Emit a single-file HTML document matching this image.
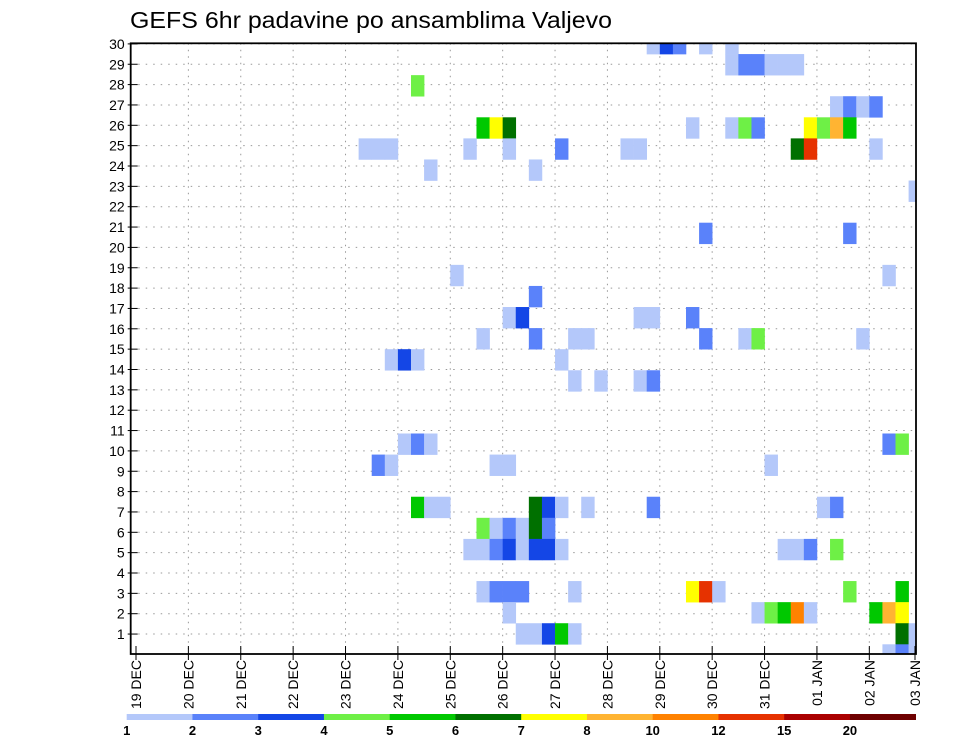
<!DOCTYPE html>
<html><head><meta charset="utf-8"><style>
html,body{margin:0;padding:0;background:#fff;}
svg{display:block;font-family:"Liberation Sans",sans-serif;}
</style></head><body>
<svg id="chart" width="960" height="742" viewBox="0 0 960 742" xmlns="http://www.w3.org/2000/svg">
<text x="130" y="28" font-size="23" textLength="482" lengthAdjust="spacingAndGlyphs" fill="#000">GEFS 6hr padavine po ansamblima Valjevo</text>
<defs><clipPath id="plotclip"><rect x="130.7" y="43.3" width="785.3" height="610.7"/></clipPath></defs>
<g id="grid"></g>
<g id="cells" clip-path="url(#plotclip)"></g>
<rect x="130.7" y="43.3" width="785.3" height="610.7" fill="none" stroke="#000" stroke-width="1.8"/>
<g id="axes"></g>
<g id="legend"></g>
</svg>
<script>
// 6-hour step index from 19 DEC 00z, ensemble member, precipitation value
const cellStep = [39,40,41,43,45, 45,46,47,48,49,50, 21, 53,54,55,56,
 26,27,28,42,45,46,47,51,52,53,54,
 17,18,19,25,28,32,37,38,50,51,56,
 22,30, 59, 43,54, 24,57, 30,
 28,29,38,39,42,
 26,30,33,34,43,46,47,55,
 19,20,21,32, 33,35,38,39,
 20,21,22,57,58,
 18,19,27,28,48,
 21,22,23,30,31,32,34,39,52,53,
 26,27,28,29,30,31,
 25,26,27,28,29,30,31,32,49,50,51,53,
 26,27,28,29,33,42,43,44,54,58,
 28,47,48,49,50,51,56,57,58,
 29,30,31,32,33,58,59,
 57,58,59];
const cellMember = [30,30,30,30,30, 29,29,29,29,29,29, 28, 27,27,27,27,
 26,26,26,26,26,26,26,26,26,26,26,
 25,25,25,25,25,25,25,25,25,25,25,
 24,24, 23, 21,21, 19,19, 18,
 17,17,17,17,17,
 16,16,16,16,16,16,16,16,
 15,15,15,15, 14,14,14,14,
 11,11,11,11,11,
 10,10,10,10,10,
 8,8,8,8,8,8,8,8,8,8,
 7,7,7,7,7,7,
 6,6,6,6,6,6,6,6,6,6,6,6,
 4,4,4,4,4,4,4,4,4,4,
 3,3,3,3,3,3,3,3,3,
 2,2,2,2,2,2,2,
 1,1,1];
const cellValue = [1.5,3.5,2.5,1.5,1.5, 1.5,2.5,2.5,1.5,1.5,1.5, 4.5, 1.5,2.5,1.5,2.5,
 5.5,7.5,6.5,1.5,1.5,4.5,2.5,7.5,4.5,9,5.5,
 1.5,1.5,1.5,1.5,1.5,2.5,1.5,1.5,6.5,13.5,1.5,
 1.5,1.5, 1.5, 2.5,2.5, 1.5,1.5, 2.5,
 1.5,3.5,1.5,1.5,2.5,
 1.5,2.5,1.5,1.5,2.5,1.5,4.5,1.5,
 1.5,3.5,1.5,1.5, 1.5,1.5,1.5,2.5,
 1.5,2.5,1.5,2.5,4.5,
 2.5,1.5,1.5,1.5,1.5,
 5.5,1.5,1.5,6.5,3.5,1.5,1.5,2.5,1.5,2.5,
 4.5,1.5,2.5,1.5,6.5,2.5,
 1.5,1.5,2.5,3.5,1.5,3.5,3.5,1.5,1.5,1.5,2.5,4.5,
 1.5,2.5,2.5,2.5,1.5,7.5,13.5,1.5,4.5,5.5,
 1.5,1.5,4.5,5.5,11,1.5,5.5,9,7.5,
 1.5,1.5,3.5,5.5,1.5,6.5,1.5,
 1.5,2.5,1.5];
const levels = [1,2,3,4,5,6,7,8,10,12,15,20];
const levelColors = ["#b4c8fa","#5a82fa","#1446e6","#6ef046","#00c800","#007000","#ffff00","#ffb432","#ff8200","#e63200","#aa0000","#6e0000"];
const dayLabels = ["19 DEC","20 DEC","21 DEC","22 DEC","23 DEC","24 DEC","25 DEC","26 DEC","27 DEC","28 DEC","29 DEC","30 DEC","31 DEC","01 JAN","02 JAN","03 JAN"];
const memberTicks = [1,2,3,4,5,6,7,8,9,10,11,12,13,14,15,16,17,18,19,20,21,22,23,24,25,26,27,28,29,30];

const NS = "http://www.w3.org/2000/svg";
const PL = 130.7, PR = 916, PT = 43.3, PB = 654;
function xScale(step){ return 136 + step*13.095; }
function yLabel(m){ return 654.4 - m*20.35; }
function cellTop(m){ return 644.3 - (m-1)*21.08; }
const CELLH = 21.08;
function colorFor(v){ let i=0; for(let k=0;k<levels.length;k++){ if(v>=levels[k]) i=k; } return levelColors[i]; }
function mk(tag, attrs, parent){ const e=document.createElementNS(NS,tag); for(const k in attrs) e.setAttribute(k,attrs[k]); parent.appendChild(e); return e; }

const grid = document.getElementById('grid');
const axes = document.getElementById('axes');
const cells = document.getElementById('cells');
const legend = document.getElementById('legend');

memberTicks.forEach(m=>{
  const y = yLabel(m);
  const g = mk('line',{x1:PL,x2:PR,y1:y,y2:y,stroke:'#999','stroke-width':1,'stroke-dasharray':'1.5 6'},grid);
  
  
  const tk = mk('line',{x1:PL-3,x2:PL+7,y1:y,y2:y,stroke:'#000','stroke-width':1},axes);
  
  
  const t = mk('text',{x:PL-6,y:y+5,'font-size':14,'text-anchor':'end',fill:'#000'},axes);
  
  
  t.textContent = m;
});
dayLabels.forEach((lab,d)=>{
  let x = Math.min(xScale(d*4), PR-1);
  if(d>0 && d<dayLabels.length-1){
    const g = mk('line',{x1:x,x2:x,y1:PT,y2:PB,stroke:'#999','stroke-width':1,'stroke-dasharray':'1.5 5'},grid);
    
    
  }
  const tk = mk('line',{x1:x,x2:x,y1:PB-8,y2:PB+6,stroke:'#000','stroke-width':1},axes);
  
  
  const t = mk('text',{x:0,y:0,'font-size':14,'text-anchor':'end',fill:'#000',transform:`translate(${x+5},${PB+6}) rotate(-90)`},axes);
  
  
  t.textContent = lab;
});
for(let i=0;i<cellStep.length;i++){
  const x0 = xScale(cellStep[i]), x1 = xScale(cellStep[i]+1);
  const r = mk('rect',{x:x0,y:cellTop(cellMember[i]),width:x1-x0+0.3,height:CELLH+0.3,fill:colorFor(cellValue[i])},cells);
  
  
}
const LX = 126.7, LW = 65.75;
levelColors.forEach((c,i)=>{
  const r = mk('rect',{x:LX+i*LW,y:714,width:LW+0.3,height:6,fill:c},legend);
  
  
});
levels.forEach((lv,i)=>{
  const t = mk('text',{x:LX+i*LW,y:735,'font-size':13,'font-weight':'bold','text-anchor':'middle',fill:'#000'},legend);
  
  
  t.textContent = lv;
});
</script>
</body></html>
